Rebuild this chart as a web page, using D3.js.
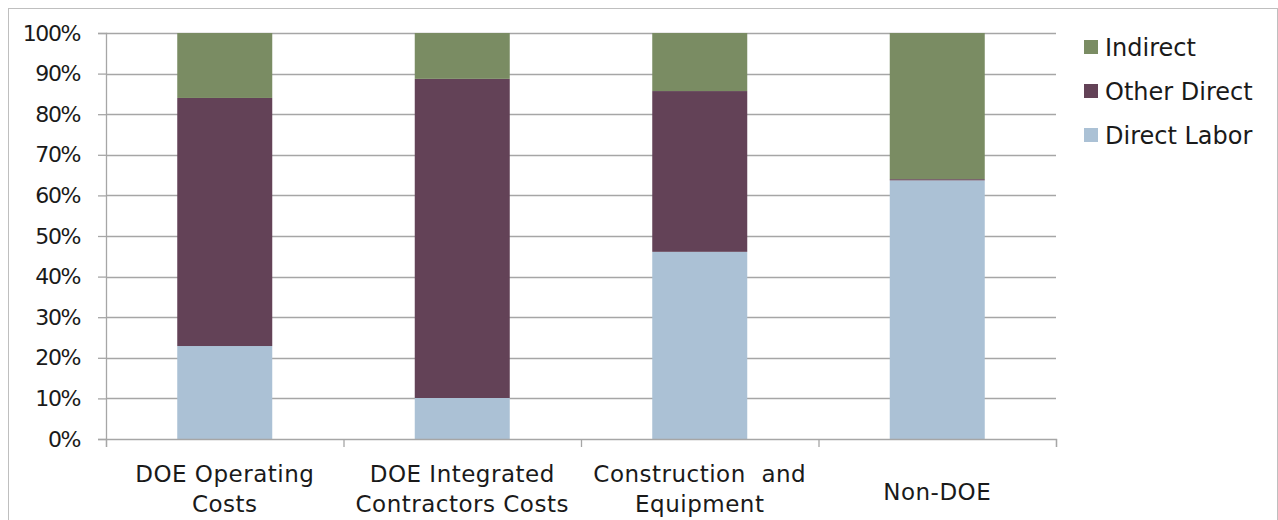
<!DOCTYPE html>
<html>
<head>
<meta charset="utf-8">
<script src="https://cdn.jsdelivr.net/npm/d3@7"></script>
<style>
  body { margin: 0; background: #fff; }
  text { font-family: "DejaVu Sans", "Liberation Sans", sans-serif; fill: #1a1a1a; }
</style>
</head>
<body>
<div id="chart"></div>
<script>
const categories = [
  ["DOE Operating", "Costs"],
  ["DOE Integrated", "Contractors Costs"],
  ["Construction  and", "Equipment"],
  ["Non-DOE"]
];
const seriesNames = ["Direct Labor", "Other Direct", "Indirect"];
const directLabor = [22.9, 10.1, 46.1, 63.7];
const otherDirect = [61.1, 78.6, 39.6, 0.3];
const indirect = [16.0, 11.3, 14.3, 36.0];
const yTicks = [0, 10, 20, 30, 40, 50, 60, 70, 80, 90, 100];
const colors = ["#abc1d5", "#634257", "#7a8c63"];

const W = 1278, H = 520;
const margin = {top: 33, right: 222, bottom: 81, left: 106};
const width = W - margin.left - margin.right,
      height = H - margin.top - margin.bottom;

const svg = d3.select("#chart").append("svg")
    .attr("width", W)
    .attr("height", H);

// outer chart frame
svg.append("rect")
    .attr("x", 8.5).attr("y", 8.5)
    .attr("width", W - 9).attr("height", H)
    .attr("fill", "none")
    .attr("stroke", "#bfbfbf");

const g = svg.append("g")
    .attr("transform", "translate(" + margin.left + "," + margin.top + ")");

const rows = categories.map((c, i) => ({
  key: i,
  "Direct Labor": directLabor[i],
  "Other Direct": otherDirect[i],
  "Indirect": indirect[i]
}));

const x = d3.scaleBand().domain(d3.range(categories.length)).range([0, width]).paddingInner(0.6).paddingOuter(0.3);
const xTick = d3.scaleLinear().domain([0, categories.length]).range([0, width]);
const y = d3.scaleLinear().domain([0, 100]).range([height, 0]);

// gridlines
g.selectAll(".grid")
    .data(yTicks.slice(1))
    .enter().append("line")
    .attr("x1", 0).attr("x2", width)
    .attr("y1", d => Math.round(y(d)) + 0.5).attr("y2", d => Math.round(y(d)) + 0.5)
    .attr("stroke", "#a6a6a6").attr("stroke-width", 1.3);

// stacked bars
const stack = d3.stack().keys(seriesNames)(rows);
g.selectAll(".layer")
    .data(stack)
    .enter().append("g")
    .attr("fill", (d, i) => colors[i])
    .selectAll("rect")
    .data(d => d)
    .enter().append("rect")
    .attr("x", d => x(d.data.key))
    .attr("width", x.bandwidth())
    .attr("y", d => y(d[1]))
    .attr("height", d => y(d[0]) - y(d[1]));

// y axis
const yAxis = g.append("g")
    .call(d3.axisLeft(y).tickValues(yTicks).tickFormat(d => d + "%").tickSize(8).tickPadding(18));
yAxis.select(".domain").attr("stroke", "#a6a6a6").attr("stroke-width", 1.3);
yAxis.selectAll(".tick line").attr("stroke", "#a6a6a6").attr("stroke-width", 1.3);
yAxis.selectAll("text").style("font-size", "22px").style("letter-spacing", "-1.4px").attr("fill", "#1a1a1a");

// x axis
const xAxis = g.append("g")
    .attr("transform", "translate(0," + height + ")")
    .call(d3.axisBottom(xTick).ticks(categories.length).tickFormat("").tickSize(8).tickSizeOuter(8));
xAxis.select(".domain").attr("stroke", "#a6a6a6").attr("stroke-width", 1.3);
xAxis.selectAll(".tick line").attr("stroke", "#a6a6a6").attr("stroke-width", 1.3);

// category labels
const lab = g.selectAll(".cat")
    .data(categories)
    .enter().append("text")
    .attr("text-anchor", "middle")
    .attr("x", (d, i) => x(i) + x.bandwidth() / 2)
    .attr("y", d => d.length === 1 ? height + 61 : height + 43)
    .style("font-size", "23px")
    .style("letter-spacing", "0.5px")
    .style("white-space", "pre");
lab.selectAll("tspan")
    .data(d => d)
    .enter().append("tspan")
    .attr("x", function() { return this.parentNode.getAttribute("x"); })
    .attr("dy", (d, i) => i === 0 ? 0 : 30)
    .text(d => d);

// legend
const legendItems = seriesNames.map((n, i) => ({name: n, color: colors[i]})).reverse();
const legend = svg.selectAll(".legend")
    .data(legendItems)
    .enter().append("g")
    .attr("transform", (d, i) => "translate(1084," + (40 + i * 44) + ")");
legend.append("rect")
    .attr("width", 14).attr("height", 14)
    .attr("fill", d => d.color);
legend.append("text")
    .attr("x", 21).attr("y", 8).attr("dy", "0.35em")
    .style("font-size", "24px")
    .text(d => d.name);
</script>
</body>
</html>
